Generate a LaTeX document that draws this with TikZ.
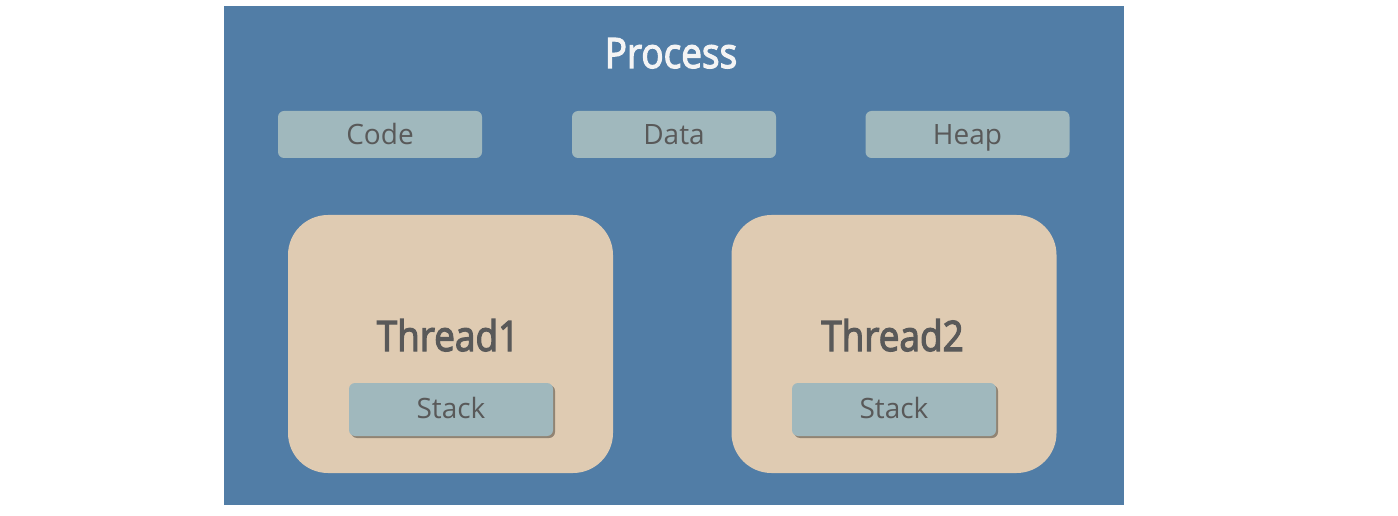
\documentclass[tikz,border=0pt]{standalone}
\usepackage{fontspec}
\setmainfont{Open Sans}
\newfontfamily\headfont[FakeBold=3]{Open Sans}
\usepackage{graphicx}
\usepackage{xcolor}
\usetikzlibrary{shadows}

\definecolor{procblue}{HTML}{517DA6}
\definecolor{segbox}{HTML}{A0B8BD}
\definecolor{threadbg}{HTML}{DFCBB2}
\definecolor{labelgray}{HTML}{595959}
\definecolor{titlewhite}{HTML}{F4F4F4}

\newcommand\headtext[1]{\scalebox{0.88}[1]{#1}}

\begin{document}
\begin{tikzpicture}[x=0.75pt,y=-0.75pt,
  seg/.style={fill=segbox,rounded corners=4.5pt,inner sep=0pt,
    minimum width=153pt,minimum height=35.25pt,text=labelgray,
    text height=15pt,text depth=-3.75pt,font=\fontsize{21}{24}\selectfont},
  thr/.style={fill=threadbg,rounded corners=30pt,inner sep=0pt,
    minimum width=243.75pt,minimum height=193.5pt},
  stk/.style={seg,minimum height=39.75pt,text depth=2.25pt,
    drop shadow={shadow xshift=1.5pt,shadow yshift=-1.5pt,opacity=0.35,fill=black}},
  head/.style={anchor=base,inner sep=0pt,font=\fontsize{31.5}{36}\headfont}]
  \useasboundingbox (0,0) rectangle (1398,516);
  \fill[procblue] (224,6) rectangle (1124,505);
  \node[head,text=titlewhite] (title) at (671,68) {\headtext{Process}};
  % shared segments
  \node[seg] (code) at (380,134.5) {Code};
  \node[seg] (data) at (674,134.5) {Data};
  \node[seg] (heap) at (967.5,134.5) {Heap};
  % threads
  \node[thr] (t1) at (450.5,344) {};
  \node[thr] (t2) at (894,344) {};
  \node[head,text=labelgray] (t1name) at (448,351) {\headtext{Thread1}};
  \node[head,text=labelgray] (t2name) at (892.5,351) {\headtext{Thread2}};
  \node[stk] (s1) at (451,409.5) {Stack};
  \node[stk] (s2) at (894,409.5) {Stack};
\end{tikzpicture}
\end{document}
